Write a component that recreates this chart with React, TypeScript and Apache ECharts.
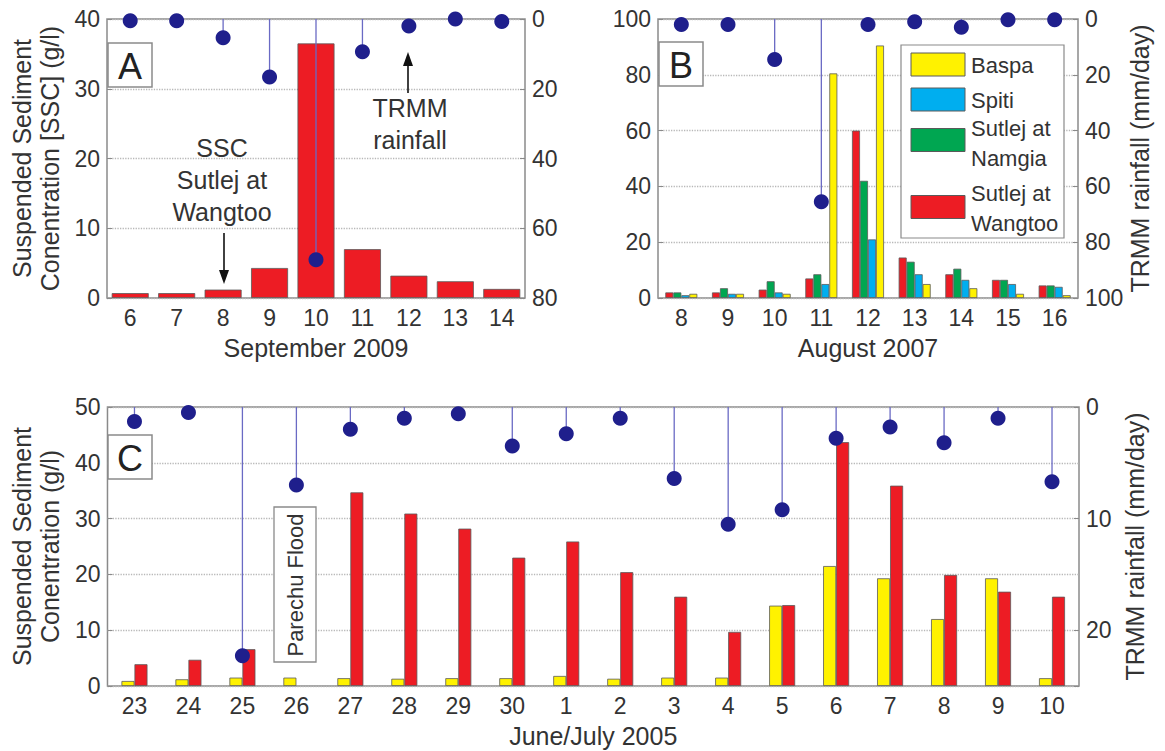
import React, { useEffect, useRef } from 'react';
import * as echarts from 'echarts';

// ---------- Panel A : September 2009 ----------
const daysA = ['6', '7', '8', '9', '10', '11', '12', '13', '14'];
const sscWangtooA = [0.7, 0.7, 1.2, 4.3, 36.5, 7.0, 3.2, 2.4, 1.3];
const rainA = [0.5, 0.5, 5.4, 16.6, 69, 9.4, 2, 0, 0.7];

// ---------- Panel B : August 2007 ----------
const daysB = ['8', '9', '10', '11', '12', '13', '14', '15', '16'];
const wangtooB = [2, 2, 3, 7, 60, 14.5, 8.5, 6.5, 4.5];
const namgiaB = [2, 3.5, 6, 8.5, 42, 13, 10.5, 6.5, 4.5];
const spitiB = [1, 1.5, 2, 5, 21, 8.5, 6.5, 5, 4];
const baspaB = [1.5, 1.5, 1.5, 80.5, 90.5, 5, 3.5, 1.5, 1];
const rainB = [2, 2, 14.5, 65.5, 2, 1, 3, 0.3, 0.3];

// ---------- Panel C : June/July 2005 ----------
const daysC = ['23', '24', '25', '26', '27', '28', '29', '30', '1', '2', '3', '4', '5', '6', '7', '8', '9', '10'];
const baspaC = [0.9, 1.2, 1.5, 1.5, 1.4, 1.3, 1.4, 1.4, 1.8, 1.3, 1.5, 1.5, 14.4, 21.5, 19.3, 12.0, 19.3, 1.4];
const wangtooC = [3.9, 4.7, 6.6, null, 34.7, 30.9, 28.2, 23.0, 25.9, 20.4, 16.0, 9.7, 14.5, 43.7, 35.9, 19.9, 16.9, 16.0];
const rainC = [1.3, 0.5, 22.3, 7.0, 2.0, 1.0, 0.6, 3.5, 2.4, 1.0, 6.4, 10.5, 9.2, 2.8, 1.8, 3.2, 1.0, 6.7];

// ---------- labels ----------
const legendNames = ['Baspa', 'Spiti', 'Sutlej at\nNamgia', 'Sutlej at\nWangtoo'];
const sscTitleA = 'Suspended Sediment\nConentration [SSC] (g/l)';
const sscTitleC = 'Suspended Sediment\nConentration (g/l)';
const rainTitle = 'TRMM rainfall (mm/day)';

const FONT = '"Liberation Sans", Arial, Helvetica, sans-serif';
const TXT = '#333333';
const FRAME = '#8a8a8a';
const GRIDLINE = '#b8b8b8';
const RED = '#ed1c24';
const YELLOW = '#fff200';
const GREEN = '#00a651';
const BLUE = '#00aeef';
const DOT = '#1f1f8c';
const STEM = '#6a6ac4';
const EDGE = '#5a5a5a';

function xAxis(gridIndex: number, data: string[], name: string) {
  return {
    type: 'category',
    gridIndex,
    data,
    axisLine: { show: false },
    axisTick: { show: false },
    axisLabel: { fontSize: 23, color: TXT, margin: 8, fontFamily: FONT },
    name,
    nameLocation: 'middle',
    nameGap: 37,
    nameTextStyle: { fontSize: 25, color: TXT, fontFamily: FONT },
  };
}

function leftY(gridIndex: number, max: number, interval: number, name?: string) {
  return {
    type: 'value',
    gridIndex,
    position: 'left',
    min: 0,
    max,
    interval,
    axisLine: { show: false },
    axisTick: { show: true, inside: true, length: 5, lineStyle: { color: FRAME } },
    axisLabel: { fontSize: 23, color: TXT, margin: 7, fontFamily: FONT },
    splitLine: { show: true, lineStyle: { color: GRIDLINE, type: 'dotted', width: 1.3 } },
    name: name || '',
    nameLocation: 'middle',
    nameGap: 43,
    nameTextStyle: { fontSize: 25, lineHeight: 28, color: TXT, fontFamily: FONT },
  };
}

function rightY(gridIndex: number, max: number, interval: number, name?: string) {
  return {
    type: 'value',
    gridIndex,
    position: 'right',
    inverse: true,
    min: 0,
    max,
    interval,
    axisLine: { show: false },
    axisTick: { show: true, inside: true, length: 5, lineStyle: { color: FRAME } },
    axisLabel: {
      fontSize: 23,
      color: TXT,
      margin: 7,
      fontFamily: FONT,
      formatter: (v: number) => (v % interval === 0 ? String(v) : ''),
    },
    splitLine: { show: false },
    name: name || '',
    nameLocation: 'middle',
    nameGap: 40,
    nameTextStyle: { fontSize: 25, color: TXT, fontFamily: FONT },
  };
}

function stems(xAxisIndex: number, yAxisIndex: number, values: number[]) {
  return {
    type: 'custom',
    xAxisIndex,
    yAxisIndex,
    z: 5,
    data: values.map((v, i) => [i, v]),
    encode: { x: 0, y: 1 },
    renderItem: (params: any, api: any) => {
      const p0 = api.coord([api.value(0), 0]);
      const p1 = api.coord([api.value(0), api.value(1)]);
      return {
        type: 'line',
        shape: { x1: p0[0], y1: p0[1], x2: p1[0], y2: p1[1] },
        style: { stroke: STEM, lineWidth: 1.3 },
      };
    },
  };
}

function dots(xAxisIndex: number, yAxisIndex: number, values: number[]) {
  return {
    type: 'scatter',
    name: 'TRMM rainfall',
    xAxisIndex,
    yAxisIndex,
    z: 6,
    symbol: 'circle',
    symbolSize: 15,
    itemStyle: { color: DOT, opacity: 1 },
    data: values,
  };
}

function bar(name: string, xAxisIndex: number, yAxisIndex: number, data: any[], color: string, width: number) {
  return {
    type: 'bar',
    name,
    xAxisIndex,
    yAxisIndex,
    data,
    barWidth: width,
    barGap: '0%',
    z: 2,
    itemStyle: { color, borderColor: EDGE, borderWidth: 0.8 },
  };
}

function panelLetter(letter: string, x: number, y: number) {
  return [
    { type: 'rect', z: 100, shape: { x, y, width: 44, height: 44 }, style: { fill: '#fff', stroke: FRAME, lineWidth: 1.5 } },
    {
      type: 'text', z: 101, x: x + 22, y: y + 23,
      style: { text: letter, fontSize: 36, fill: '#222', align: 'center', verticalAlign: 'middle', fontFamily: FONT },
    },
  ];
}

const legendColors = [YELLOW, BLUE, GREEN, RED];
const legendSwatchTops = [53, 88, 128.5, 195.5];
const legendTextCenters = [65, 100, 143.5, 208];

export default function App() {
  const ref = useRef<HTMLDivElement>(null);

  useEffect(() => {
    if (!ref.current) return;
    const chart = echarts.init(ref.current, undefined, { renderer: 'svg' });

    const legendGraphics: any[] = [
      { type: 'rect', z: 100, shape: { x: 901, y: 45, width: 163, height: 193 }, style: { fill: '#fff', stroke: FRAME, lineWidth: 1.2 } },
    ];
    legendNames.forEach((n, i) => {
      legendGraphics.push({
        type: 'rect', z: 101,
        shape: { x: 911, y: legendSwatchTops[i], width: 54, height: 23 },
        style: { fill: legendColors[i], stroke: EDGE, lineWidth: 1 },
      });
      legendGraphics.push({
        type: 'text', z: 101, x: 971, y: legendTextCenters[i],
        style: { text: n, fontSize: 22, lineHeight: 30, fill: TXT, align: 'left', verticalAlign: 'middle', fontFamily: FONT },
      });
    });

    const option: any = {
      animation: false,
      backgroundColor: '#ffffff',
      textStyle: { fontFamily: FONT },
      grid: [
        { left: 107, top: 19, width: 418, height: 279, show: true, borderColor: FRAME, borderWidth: 1.5, backgroundColor: 'transparent' },
        { left: 658, top: 19, width: 420, height: 279, show: true, borderColor: FRAME, borderWidth: 1.5, backgroundColor: 'transparent' },
        { left: 106, top: 407, width: 973, height: 279, show: true, borderColor: FRAME, borderWidth: 1.5, backgroundColor: 'transparent' },
      ],
      xAxis: [
        xAxis(0, daysA, 'September 2009'),
        xAxis(1, daysB, 'August 2007'),
        xAxis(2, daysC, 'June/July 2005'),
      ],
      yAxis: [
        leftY(0, 40, 10, sscTitleA),
        rightY(0, 80, 20),
        leftY(1, 100, 20),
        rightY(1, 100, 20, rainTitle),
        leftY(2, 50, 10, sscTitleC),
        rightY(2, 25, 10, rainTitle),
      ],
      series: [
        // Panel A
        bar('SSC Sutlej at Wangtoo', 0, 0, sscWangtooA, RED, 37),
        stems(0, 1, rainA),
        dots(0, 1, rainA),
        // Panel B
        bar('Sutlej at\nWangtoo', 1, 2, wangtooB, RED, 8),
        bar('Sutlej at\nNamgia', 1, 2, namgiaB, GREEN, 8),
        bar('Spiti', 1, 2, spitiB, BLUE, 8),
        bar('Baspa', 1, 2, baspaB, YELLOW, 8),
        stems(1, 3, rainB),
        dots(1, 3, rainB),
        // Panel C
        bar('Baspa', 2, 4, baspaC, YELLOW, 13),
        bar('Sutlej at\nWangtoo', 2, 4, wangtooC, RED, 13),
        stems(2, 5, rainC),
        dots(2, 5, rainC),
      ],
      graphic: [
        ...panelLetter('A', 108, 43),
        ...panelLetter('B', 659, 42),
        ...panelLetter('C', 108, 435),
        // Panel A annotations
        {
          type: 'text', z: 101, x: 222, y: 180,
          style: { text: 'SSC\nSutlej at\nWangtoo', fontSize: 25, lineHeight: 32, fill: TXT, align: 'center', verticalAlign: 'middle', fontFamily: FONT },
        },
        { type: 'line', z: 101, shape: { x1: 224, y1: 233, x2: 224, y2: 272 }, style: { stroke: '#111', lineWidth: 1.6 } },
        { type: 'polygon', z: 101, shape: { points: [[219, 270], [229, 270], [224, 284]] }, style: { fill: '#111' } },
        {
          type: 'text', z: 101, x: 410, y: 124,
          style: { text: 'TRMM\nrainfall', fontSize: 25, lineHeight: 32, fill: TXT, align: 'center', verticalAlign: 'middle', fontFamily: FONT },
        },
        { type: 'line', z: 101, shape: { x1: 408, y1: 93, x2: 408, y2: 64 }, style: { stroke: '#111', lineWidth: 1.6 } },
        { type: 'polygon', z: 101, shape: { points: [[403, 66], [413, 66], [408, 52]] }, style: { fill: '#111' } },
        // Panel C flood label
        { type: 'rect', z: 100, shape: { x: 274, y: 507, width: 42, height: 155 }, style: { fill: '#fff', stroke: FRAME, lineWidth: 1.3 } },
        {
          type: 'text', z: 101, x: 295, y: 585, rotation: Math.PI / 2,
          style: { text: 'Parechu Flood', fontSize: 22, fill: TXT, align: 'center', verticalAlign: 'middle', fontFamily: FONT },
        },
        // Panel B legend
        ...legendGraphics,
      ],
    };

    chart.setOption(option);
    return () => chart.dispose();
  }, []);

  return <div ref={ref} style={{ position: 'absolute', left: 0, top: 0, width: 1165, height: 751 }} />;
}
